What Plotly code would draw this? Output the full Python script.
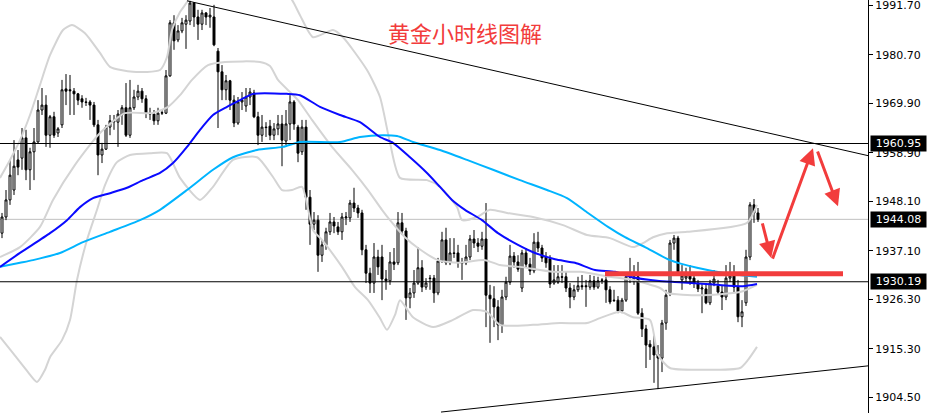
import plotly.graph_objects as go

# ---------------- data ----------------
opens = [1941.0,1944.6,1948.4,1950.6,1957.3,1957.7,1962.2,1955.1,1959.1,1961.3,
1968.4,1969.5,1962.8,1966.9,1963.3,1965.1,1973.1,1972.9,1972.6,1972.0,
1970.9,1970.2,1970.2,1969.5,1965.1,1958.4,1959.7,1964.6,1966.0,1965.7,
1967.3,1968.9,1962.8,1968.9,1971.3,1972.6,1970.9,1967.7,1967.5,1966.0,
1967.7,1967.7,1976.0,1987.8,1984.0,1986.0,1987.5,1988.2,1992.2,1989.1,
1987.5,1990.0,1989.1,1989.1,1981.5,1976.9,1972.9,1974.9,1970.6,1965.5,
1970.2,1969.3,1971.3,1972.2,1966.9,1962.8,1964.6,1964.8,1962.8,1964.2,
1965.3,1961.5,1965.3,1970.2,1964.6,1959.1,1964.6,1949.0,1943.0,1943.9,
1936.1,1938.4,1941.3,1943.5,1942.4,1941.3,1944.4,1944.4,1947.7,1946.6,
1945.5,1937.3,1932.1,1929.9,1935.7,1935.7,1930.8,1930.4,1934.6,1934.4,
1943.3,1941.5,1926.6,1927.7,1929.9,1933.3,1929.0,1931.0,1931.0,1927.7,
1934.8,1939.5,1934.4,1936.6,1936.6,1934.4,1934.4,1935.7,1939.7,1938.8,
1938.1,1939.7,1927.2,1926.4,1924.6,1920.6,1926.8,1930.1,1935.9,1934.6,
1928.8,1936.6,1934.1,1932.6,1939.0,1937.7,1935.7,1935.3,1929.9,1930.1,
1931.3,1931.3,1928.8,1926.8,1928.4,1929.3,1929.3,1929.0,1930.4,1929.0,
1930.6,1930.6,1928.4,1926.1,1926.1,1923.7,1926.1,1931.3,1930.8,1931.3,
1923.2,1919.7,1916.3,1915.7,1914.1,1913.2,1921.0,1927.7,1938.8,1939.9,
1930.6,1931.0,1931.5,1931.0,1929.9,1928.6,1928.6,1925.5,1929.9,1929.2,
1927.9,1926.8,1931.0,1931.5,1929.0,1922.4,1925.5,1935.7,1947.3,1945.5]

closes = [1944.6,1948.4,1953.9,1955.9,1955.7,1962.2,1955.1,1959.1,1961.3,1968.4,
1969.5,1962.8,1966.9,1962.8,1964.2,1972.9,1972.6,1972.7,1972.0,1970.6,
1970.2,1970.1,1969.5,1965.1,1958.4,1959.7,1964.6,1966.0,1965.8,1967.5,
1968.9,1962.8,1968.9,1971.3,1972.6,1970.9,1967.7,1967.5,1966.0,1967.7,
1967.8,1976.0,1987.8,1983.8,1986.0,1987.8,1988.4,1992.2,1989.1,1987.5,
1990.0,1989.1,1989.5,1982.9,1976.9,1972.9,1974.9,1970.6,1965.5,1970.2,
1970.6,1971.3,1972.4,1966.9,1962.8,1964.6,1964.5,1962.8,1964.2,1965.3,
1961.7,1965.3,1970.2,1965.3,1958.8,1964.6,1949.0,1943.0,1943.9,1936.1,
1938.4,1941.3,1943.5,1942.6,1941.3,1944.6,1944.6,1947.7,1946.6,1945.5,
1937.3,1932.1,1929.9,1935.7,1933.5,1930.8,1930.4,1934.6,1934.1,1943.3,
1941.5,1926.6,1927.7,1929.9,1933.3,1929.0,1929.9,1930.9,1927.7,1934.8,
1939.5,1934.4,1936.6,1936.5,1934.4,1934.3,1935.7,1939.7,1938.8,1938.1,
1939.7,1927.2,1926.4,1924.6,1920.6,1926.8,1930.1,1935.9,1934.6,1933.0,
1936.6,1934.1,1932.6,1939.0,1937.7,1935.5,1934.4,1929.7,1930.6,1931.3,
1931.2,1928.8,1926.8,1928.4,1929.3,1929.1,1929.1,1930.4,1929.0,1930.4,
1930.5,1928.4,1925.7,1926.0,1923.7,1926.1,1931.3,1931.2,1931.3,1923.2,
1919.7,1916.1,1915.7,1913.9,1913.2,1921.0,1927.2,1938.8,1939.9,1932.4,
1931.5,1931.5,1930.8,1929.9,1928.6,1928.8,1925.5,1929.9,1930.8,1927.9,
1926.8,1931.0,1931.5,1929.0,1922.4,1923.5,1935.7,1947.3,1945.5,1944.08]

highs = [1945.5,1950.6,1957.3,1961.7,1959.5,1964.4,1964.0,1960.0,1964.4,1970.6,
1973.3,1971.7,1967.3,1968.0,1964.6,1975.1,1976.4,1976.2,1973.3,1972.2,
1971.7,1971.1,1970.6,1970.2,1966.2,1961.1,1965.1,1967.3,1967.3,1968.4,
1969.5,1974.4,1975.1,1972.9,1974.0,1973.3,1971.7,1968.9,1968.4,1968.9,
1968.4,1977.3,1988.4,1989.5,1987.3,1988.9,1989.5,1992.7,1992.4,1990.7,
1990.7,1990.2,1991.1,1991.8,1982.2,1978.4,1976.2,1975.1,1971.7,1971.3,
1972.4,1973.3,1973.3,1972.9,1968.0,1967.3,1965.7,1966.2,1965.5,1967.3,
1967.3,1968.4,1971.7,1970.6,1965.1,1966.2,1966.2,1950.6,1945.7,1945.0,
1939.5,1942.2,1945.5,1944.6,1943.5,1945.5,1945.7,1948.4,1951.1,1947.3,
1946.2,1938.4,1933.3,1938.8,1937.3,1938.4,1932.8,1936.8,1937.7,1945.7,
1945.5,1942.2,1928.8,1932.8,1937.9,1935.0,1931.0,1931.7,1931.7,1935.5,
1941.3,1942.2,1939.9,1939.9,1938.4,1935.5,1938.4,1940.6,1941.7,1939.9,
1941.3,1947.7,1929.5,1929.2,1926.1,1928.4,1931.3,1938.4,1936.8,1936.1,
1937.3,1937.7,1935.5,1941.0,1941.3,1938.4,1936.8,1936.1,1933.9,1933.9,
1933.9,1932.4,1929.9,1929.5,1931.3,1931.7,1930.6,1931.7,1931.5,1931.3,
1931.0,1931.3,1929.2,1928.4,1927.0,1926.6,1931.7,1935.5,1933.9,1934.6,
1924.3,1920.6,1917.2,1918.3,1916.1,1921.7,1928.4,1939.5,1940.6,1940.4,
1933.9,1933.3,1933.9,1931.7,1930.6,1929.9,1929.5,1930.6,1932.8,1930.6,
1929.5,1933.9,1934.6,1933.9,1930.6,1926.1,1937.3,1947.9,1948.6,1946.6]

lows = [1939.9,1943.9,1947.3,1949.5,1953.9,1955.1,1952.8,1950.6,1952.8,1961.1,
1967.3,1960.2,1960.0,1962.2,1962.4,1964.4,1969.5,1967.3,1967.3,1969.5,
1968.9,1969.3,1966.2,1964.6,1953.9,1956.6,1959.5,1962.8,1964.0,1960.2,
1965.1,1962.4,1962.2,1968.4,1970.6,1970.0,1966.6,1966.2,1965.1,1965.1,
1967.3,1967.5,1975.8,1981.8,1983.5,1985.5,1982.0,1987.3,1986.9,1984.0,
1986.2,1987.3,1986.7,1982.6,1964.4,1970.6,1970.6,1968.4,1964.6,1965.1,
1968.4,1968.0,1969.5,1966.6,1960.6,1961.3,1962.4,1961.7,1961.7,1962.8,
1955.9,1960.6,1961.7,1964.0,1956.8,1958.4,1946.2,1938.4,1941.7,1932.4,
1934.6,1937.3,1940.6,1941.0,1940.6,1939.5,1942.8,1943.5,1945.7,1944.4,
1936.1,1929.9,1927.7,1927.7,1931.7,1926.1,1928.4,1929.5,1932.8,1933.9,
1940.6,1921.7,1924.3,1926.6,1929.5,1927.9,1928.4,1928.4,1925.5,1927.2,
1934.4,1933.9,1933.9,1935.5,1933.3,1930.6,1933.9,1935.0,1937.7,1936.8,
1937.3,1920.1,1916.6,1920.1,1917.2,1918.8,1926.1,1929.5,1933.3,1932.4,
1927.9,1933.3,1931.7,1932.1,1936.8,1934.6,1933.3,1928.8,1929.5,1929.7,
1929.9,1927.9,1924.3,1926.1,1927.9,1928.4,1924.6,1928.4,1928.4,1928.6,
1929.7,1925.5,1925.2,1925.7,1923.2,1923.2,1925.7,1929.9,1929.5,1922.8,
1917.9,1911.0,1912.8,1907.7,1906.3,1910.1,1919.5,1927.0,1937.3,1931.7,
1928.4,1930.1,1929.5,1928.8,1927.9,1923.2,1925.2,1925.0,1929.2,1927.5,
1923.9,1926.1,1930.1,1927.9,1921.2,1920.1,1924.8,1935.0,1943.3,1943.5]

bars = list(range(len(opens)))

# Bollinger bands (bar position, price)
bb_upper_x = [-0.5,2,4.5,7,9.5,12,15.25,17.5,20.75,24.5,27,32.75,39.5,41.25,42.5,44.5,46.25,49.5,59.5,67,
              72.5,74.5,77.75,82.75,85.25,91.25,94.5,97,99.5,106.25,109.5,113.75,115,118.75,122,126.25,132.75,
              140.25,146.25,152,157.75,160.25,162.75,166.25,171.25,186.25,188.75]
bb_upper_y = [1953.3,1957.3,1961.7,1967.3,1974.0,1980.6,1986.2,1987.3,1985.5,1981.1,1978.0,1976.9,1977.3,1980.2,
              1986.2,1990.2,1992.4,1997.3,2001.8,1998.4,1992.9,1989.5,1984.6,1986.2,1984.6,1977.3,1971.3,1961.1,
              1953.3,1952.8,1951.3,1946.8,1943.9,1944.6,1946.2,1945.5,1944.6,1942.8,1940.6,1939.9,1937.9,1938.8,
              1940.1,1941.0,1941.3,1943.3,1947.3]
bb_mid_x = [-0.5,4.5,9.5,12.75,18.25,24.5,30.75,37.5,41.5,44.5,47.5,51.5,55.75,64.5,67,69,74,77.5,82.5,87.5,
            91.5,95,97,100.75,104,109,114,120.75,124.5,129.5,137.75,144.5,152,157.75,164.5,166.25,174.5,184.5,188.75]
bb_mid_y = [1935.7,1937.9,1942.4,1948.4,1956.2,1963.3,1967.7,1967.7,1969.1,1971.7,1975.1,1978.4,1979.1,1979.1,
            1978.2,1975.1,1970.6,1966.2,1960.2,1955.1,1950.6,1946.2,1943.9,1940.1,1937.7,1935.0,1934.4,1935.0,
            1933.9,1933.5,1932.4,1932.4,1931.3,1930.6,1928.8,1927.7,1927.2,1927.9,1929.5]
bb_lower_x = [-0.5,2.75,6.5,8.75,10.75,12,15,17,18.75,21.25,23.75,25.75,28.75,32,37,41.25,44.5,49.5,52.75,57.75,
              63.75,67.75,70,72.5,75,77.75,80,85,88.25,91.5,94.5,96.25,98.25,99.5,102.75,107.75,112.75,117.75,
              121.25,124.5,132.75,139.5,146.25,149.5,154.5,157.75,162,164,167,174.5,184.5,186.5,188.75]
bb_lower_y = [1917.9,1914.3,1910.1,1907.9,1910.6,1913.4,1917.2,1921.7,1930.6,1939.5,1946.2,1951.7,1956.8,1958.4,
              1958.8,1958.8,1953.3,1948.4,1951.3,1957.3,1957.9,1953.5,1950.6,1950.6,1951.3,1941.7,1939.5,1933.5,
              1929.0,1926.1,1922.1,1919.5,1922.8,1926.1,1922.3,1920.1,1921.7,1923.9,1923.5,1920.6,1920.6,1921.0,
              1921.0,1922.1,1923.5,1922.3,1921.7,1913.9,1911.0,1910.6,1911.0,1912.8,1915.7]

# moving averages
ma_fast_x = [-0.5,4.5,12,16.25,19.5,22.75,27,31.25,35.25,39.5,42.75,46.25,49.5,52.75,56.25,59.5,62.75,71.25,74.5,
             79.5,84.5,89.5,94.5,97.75,102,106.25,109.5,112.5,115.75,120,124,129,133.25,138.25,143.25,148.25,
             153.25,157,163.75,169.5,178.75,185.25,188.75]
ma_fast_y = [1933.5,1936.6,1941.0,1943.9,1946.8,1948.8,1949.9,1951.1,1952.8,1954.4,1956.6,1960.2,1964.0,1967.3,
             1969.1,1970.6,1972.0,1972.0,1971.7,1969.1,1967.3,1965.7,1962.4,1961.1,1957.9,1954.4,1951.3,1948.4,
             1946.2,1943.9,1941.0,1938.4,1936.6,1935.2,1934.4,1932.8,1932.4,1931.3,1930.4,1930.1,1929.5,1929.2,1929.7]
ma_slow_x = [-0.5,4.5,7.75,14.5,20.25,27,34.5,39.5,46.25,52.75,57.75,63.75,70.25,74.5,84.5,89.5,95.25,98.75,
             102.75,109.5,116.25,122.75,129.5,136.25,141.25,146.5,151.5,155.75,160.75,167,173.75,182,188.75]
ma_slow_y = [1933.5,1934.4,1935.0,1936.6,1939.0,1941.3,1943.9,1946.2,1950.6,1955.1,1957.9,1959.5,1960.2,1961.3,
             1961.3,1962.4,1962.8,1962.6,1961.3,1959.5,1957.3,1955.1,1952.8,1950.6,1948.8,1945.5,1942.4,1940.1,
             1937.9,1935.0,1933.3,1931.9,1931.3]

# drawn objects
trend_upper_x = [46.25, 216.75]
trend_upper_y = [1992.7, 1958.2]
trend_lower_x = [109.75, 216.75]
trend_lower_y = [1901.2, 1911.5]
support_x = [150.75, 210.25]
support_y = [1932.0, 1932.0]
arrow_tail_x = [190.0, 192.5, 203.75]
arrow_tail_y = [1943.5, 1935.0, 1959.5]
arrow_head_x = [192.3, 202.75, 209.0]
arrow_head_y = [1935.5, 1959.9, 1947.0]

h_black_levels = [1960.95, 1930.19]
bid_level = 1944.08
price_tags = ["1960.95", "1944.08", "1930.19"]
price_tag_values = [1960.95, 1944.08, 1930.19]

tick_values = [1991.70, 1980.70, 1969.90, 1958.90, 1948.10, 1937.10, 1926.30, 1915.30, 1904.50]
tick_labels = ["1991.70", "1980.70", "1969.90", "1958.90", "1948.10", "1937.10", "1926.30", "1915.30", "1904.50"]

title_text = "黄金小时线图解"

# ---------------- figure ----------------
BAND = "#d4d4d4"
RED = "#f23c3c"
AXFONT = "DejaVu Sans, Verdana, sans-serif"

fig = go.Figure()

fig.add_trace(go.Candlestick(
    x=bars, open=opens, high=highs, low=lows, close=closes,
    increasing=dict(line=dict(color="black", width=1), fillcolor="white"),
    decreasing=dict(line=dict(color="black", width=1), fillcolor="black"),
    whiskerwidth=0, showlegend=False, hoverinfo="skip"))

for xs, ys in [(bb_upper_x, bb_upper_y), (bb_mid_x, bb_mid_y), (bb_lower_x, bb_lower_y)]:
    fig.add_trace(go.Scatter(x=xs, y=ys, mode="lines", line=dict(color=BAND, width=2, shape="spline", smoothing=0.6),
                             showlegend=False, hoverinfo="skip"))

fig.add_trace(go.Scatter(x=ma_slow_x, y=ma_slow_y, mode="lines",
                         line=dict(color="#00b4ff", width=2, shape="spline", smoothing=0.6),
                         showlegend=False, hoverinfo="skip"))
fig.add_trace(go.Scatter(x=ma_fast_x, y=ma_fast_y, mode="lines",
                         line=dict(color="#0a0aff", width=2, shape="spline", smoothing=0.6),
                         showlegend=False, hoverinfo="skip"))

fig.add_trace(go.Scatter(x=trend_upper_x, y=trend_upper_y, mode="lines", line=dict(color="black", width=1),
                         showlegend=False, hoverinfo="skip"))
fig.add_trace(go.Scatter(x=trend_lower_x, y=trend_lower_y, mode="lines", line=dict(color="black", width=1),
                         showlegend=False, hoverinfo="skip"))
fig.add_trace(go.Scatter(x=support_x, y=support_y, mode="lines", line=dict(color=RED, width=5),
                         showlegend=False, hoverinfo="skip"))

shapes = []
shapes.append(dict(type="line", xref="paper", x0=0, x1=1, yref="y", y0=bid_level, y1=bid_level,
                   line=dict(color="#c0c0c0", width=1), layer="below"))
for lv in h_black_levels:
    shapes.append(dict(type="line", xref="paper", x0=0, x1=1, yref="y", y0=lv, y1=lv,
                       line=dict(color="black", width=1)))

annotations = []
for tx, ty, hx, hy in zip(arrow_tail_x, arrow_tail_y, arrow_head_x, arrow_head_y):
    annotations.append(dict(x=hx, y=hy, xref="x", yref="y", ax=tx, ay=ty, axref="x", ayref="y",
                            showarrow=True, arrowhead=2, arrowsize=1.1, arrowwidth=3, arrowcolor=RED, text=""))
for lab, val in zip(price_tags, price_tag_values):
    annotations.append(dict(x=1, xref="paper", xanchor="left", xshift=2, y=val, yref="y", yanchor="middle",
                            text=lab, showarrow=False, bgcolor="black", borderpad=1, width=53, height=13,
                            font=dict(color="white", size=11, family=AXFONT)))
annotations.append(dict(x=0.5357, y=0.922, xref="paper", yref="paper", text=title_text, showarrow=False,
                        font=dict(color=RED, size=22, family="Noto Sans CJK SC"), xanchor="center", yanchor="middle"))

fig.update_layout(
    width=932, height=413,
    margin=dict(l=0, r=64, t=0, b=0, autoexpand=False),
    paper_bgcolor="white", plot_bgcolor="white",
    shapes=shapes, annotations=annotations,
    xaxis=dict(range=[-0.5, 216.5], showgrid=False, zeroline=False, showticklabels=False, automargin=False,
               rangeslider=dict(visible=False), fixedrange=True, showline=False, ticks=""),
    yaxis=dict(range=[1900.99, 1992.88], side="right", showgrid=False, zeroline=False, automargin=False,
               tickvals=tick_values, ticktext=tick_labels, ticks="outside", ticklen=4, tickcolor="black",
               showline=True, linecolor="black", linewidth=1, ticklabeloverflow="allow",
               tickfont=dict(color="black", size=11, family=AXFONT)),
)

fig.write_html("out.html", config={"displayModeBar": False},
               post_script="document.body.style.margin='0';document.body.style.overflow='hidden';")
